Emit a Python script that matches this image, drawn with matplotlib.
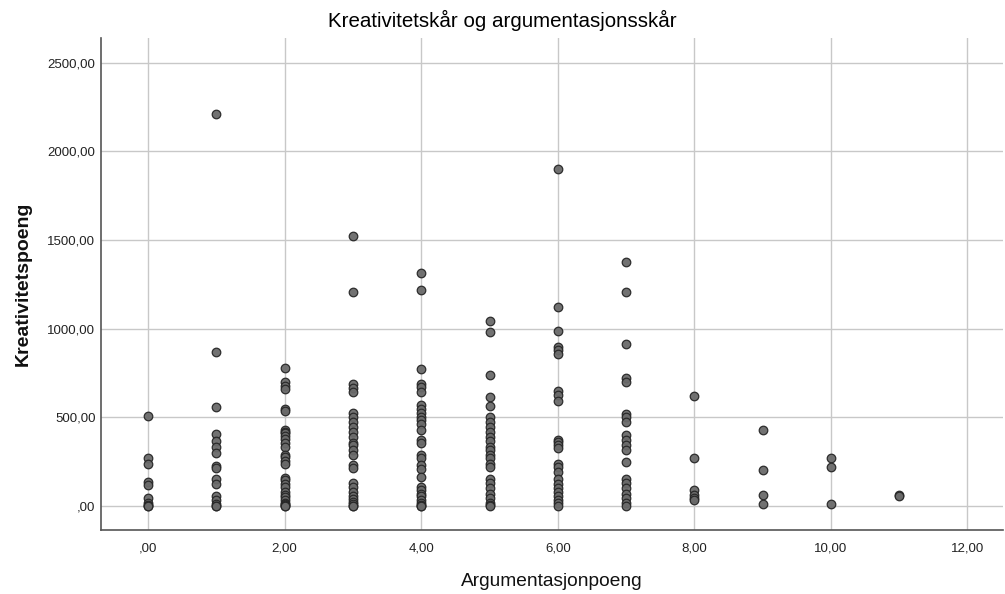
import matplotlib
matplotlib.use("Agg")
import matplotlib.pyplot as plt
import numpy as np

plt.rcParams['font.family'] = ['Liberation Sans', 'DejaVu Sans']

# Creativity scores grouped by argumentation score
scores = {
    0: [510, 270, 235, 135, 120, 45, 20, 5, 0, 0],
    1: [2210, 870, 557, 405, 365, 335, 300, 225, 215, 150, 125, 55, 35, 10, 0, 0],
    2: [780, 700, 680, 660, 550, 535, 430, 420, 410, 395, 380, 355, 335, 290, 275,
        255, 235, 160, 145, 125, 110, 80, 60, 50, 35, 20, 10, 5, 0, 0],
    3: [1525, 1205, 690, 665, 645, 525, 500, 475, 445, 420, 390, 355, 345, 315, 290,
        230, 215, 130, 110, 80, 55, 40, 25, 10, 0, 0],
    4: [1315, 1220, 775, 690, 670, 645, 570, 550, 525, 505, 485, 465, 430, 375, 355,
        290, 270, 230, 210, 165, 110, 90, 70, 55, 35, 15, 5, 0, 0],
    5: [1045, 980, 740, 615, 565, 505, 475, 445, 420, 390, 365, 335, 315, 290, 270,
        240, 220, 155, 130, 100, 70, 45, 15, 5, 0],
    6: [1900, 1125, 985, 895, 880, 860, 650, 625, 590, 375, 360, 345, 330, 240, 220,
        190, 155, 125, 100, 80, 55, 35, 15, 0],
    7: [1375, 1205, 915, 720, 700, 520, 505, 475, 400, 370, 345, 315, 250, 155, 130,
        100, 70, 45, 15, 0],
    8: [620, 270, 90, 65, 45, 35],
    9: [430, 205, 60, 10],
    10: [270, 220, 10],
    11: [65, 55],
}

x_ticks = [0, 2, 4, 6, 8, 10, 12]
x_tick_labels = [",00", "2,00", "4,00", "6,00", "8,00", "10,00", "12,00"]
y_ticks = [0, 500, 1000, 1500, 2000, 2500]
y_tick_labels = [",00", "500,00", "1000,00", "1500,00", "2000,00", "2500,00"]

arg_vals = np.concatenate([[k] * len(v) for k, v in scores.items()])
crea_vals = np.concatenate([v for v in scores.values()])

fig = plt.figure(figsize=(10.05, 5.94), dpi=100)
ax = fig.add_axes([0.1005, 0.1077, 0.8975, 0.8283])

ax.scatter(arg_vals, crea_vals, s=38, facecolor='#6a6a6a', edgecolor='#262626',
           linewidth=0.9, alpha=0.95, zorder=3)

ax.set_xlim(-0.69, 12.52)
ax.set_ylim(-135, 2640)
ax.set_xticks(x_ticks)
ax.set_xticklabels(x_tick_labels)
ax.set_yticks(y_ticks)
ax.set_yticklabels(y_tick_labels)
ax.tick_params(axis='both', labelsize=9.5, colors='#222222', length=0)
ax.tick_params(axis='x', pad=9)
ax.tick_params(axis='y', pad=4)

ax.grid(True, color='#c8c8c8', linewidth=1.0, zorder=0)
ax.set_axisbelow(True)
for side in ('top', 'right'):
    ax.spines[side].set_visible(False)
for side in ('left', 'bottom'):
    ax.spines[side].set_color('#555555')
    ax.spines[side].set_linewidth(1.2)

# Title centred on the whole figure rather than on the axes
fig.text(0.5, 0.965, "Kreativitetskår og argumentasjonsskår", fontsize=14.8,
         ha='center', va='center', color='#000000')
ax.set_xlabel("Argumentasjonpoeng", fontsize=13.8, labelpad=13, color='#111111')
ax.set_ylabel("Kreativitetspoeng", fontsize=14, fontweight='bold', labelpad=11,
              color='#111111')

fig.savefig("out.png", dpi=100)
